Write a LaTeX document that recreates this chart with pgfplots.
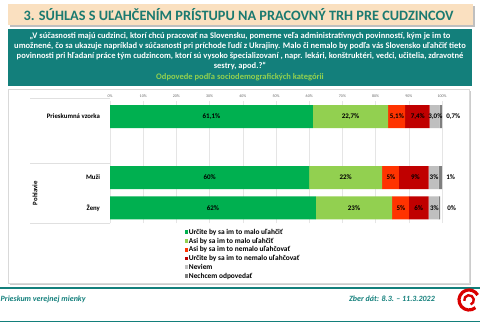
\documentclass[border=0pt]{standalone}
\usepackage{pgfplots}
\pgfplotsset{compat=1.18}
\usepackage{fontspec}
\setmainfont{Carlito}
\definecolor{cA}{HTML}{00B050}
\definecolor{cB}{HTML}{92D050}
\definecolor{cC}{HTML}{FF3300}
\definecolor{cD}{HTML}{C00000}
\definecolor{cE}{HTML}{BFBFBF}
\definecolor{cF}{HTML}{7F7F7F}
\definecolor{teal1}{HTML}{137F7B}
\definecolor{beige}{HTML}{FAE0C0}
\definecolor{ttl}{HTML}{1B7A70}
\definecolor{lgreen}{HTML}{92D050}
\tikzset{lbl/.style={font=\fontsize{6.8}{7}\selectfont\bfseries},
         vlbl/.style={font=\fontsize{7}{7}\selectfont\bfseries, inner sep=0pt}}
\pgfplotsset{myax/.style={
  at={(110pt,-223.25pt)}, anchor=south west,
  scale only axis, width=332pt, height=122pt,
  xmin=0, xmax=100, ymin=-0.5, ymax=3.5, clip=false}}
\begin{document}
\begin{tikzpicture}
\begin{scope}[x=1pt,y=-1pt]
\useasboundingbox (0,0) rectangle (480,323);
% title
\fill[black!25] (10,6) rectangle (475,27);
\fill[beige] (8,4) rectangle (473,25);
\node[font=\fontsize{14.3}{17}\selectfont\bfseries, text=ttl] at (238.5,14.5) {3. SÚHLAS S UĽAHČENÍM PRÍSTUPU NA PRACOVNÝ TRH PRE CUDZINCOV};
% teal box
\fill[teal1] (8,29.5) rectangle (472,86);
\node[font=\fontsize{8.5}{10}\selectfont\bfseries, text=white, align=center] at (240,51.5) {„V súčasnosti majú cudzinci, ktorí chcú pracovať na Slovensku, pomerne veľa administratívnych povinností, kým je im to\\umožnené, čo sa ukazuje napríklad v súčasnosti pri príchode ľudí z Ukrajiny. Malo či nemalo by podľa vás Slovensko uľahčiť tieto\\povinnosti pri hľadaní práce tým cudzincom, ktorí sú vysoko špecializovaní , napr. lekári, konštruktéri, vedci, učitelia, zdravotné\\sestry, apod.?“};
\node[font=\fontsize{8.5}{10}\selectfont\bfseries, text=lgreen] at (240,77) {Odpovede podľa sociodemografických kategórii};
% panel
\fill[black!20] (10,91) rectangle (471,285.5);
\fill[white] (8,89) rectangle (469,283.5);
\draw[black!15, line width=0.4pt] (8,89) rectangle (469,283.5);
% row separators
\draw[black!12, line width=0.6pt] (30,98) -- (110,98);
\draw[black!12, line width=0.6pt] (30,163) -- (110,163);
\draw[black!12, line width=0.6pt] (30,223.5) -- (110,223.5);
\node[lbl, anchor=east] at (103.5,116.5) {Prieskumná vzorka};
\node[lbl, anchor=east] at (103.5,177.5) {Muži};
\node[lbl, anchor=east] at (103.5,208) {Ženy};
\node[lbl, rotate=90] at (35,193) {Pohlavie};
% footer
\draw[teal1, line width=1.6pt] (0,288) -- (480,288);
\draw[teal1, line width=1.6pt] (0,321.5) -- (480,321.5);
\node[font=\fontsize{8}{9}\selectfont\bfseries\itshape, text=teal1, anchor=west, inner sep=0pt] at (0.5,299) {Prieskum verejnej mienky};
\node[font=\fontsize{8}{9}\selectfont\bfseries\itshape, text=teal1, anchor=east, inner sep=0pt] at (435,299) {Zber dát: 8.3. – 11.3.2022};
\draw[red!85!black, line width=3.2pt] (469,300) ++(50:10) arc[start angle=50, end angle=330, radius=10];
\draw[red!85!black, line width=2.4pt] (469,300) ++(170:4.8) arc[start angle=170, end angle=430, radius=4.8];
\end{scope}
\begin{axis}[
  myax,
  xbar stacked, bar width=23pt,
  axis line style={draw=none},
  xtick={0,10,...,100},
  xticklabels={0\%,10\%,20\%,30\%,40\%,50\%,60\%,70\%,80\%,90\%,100\%},
  xticklabel pos=upper,
  xticklabel style={font=\fontsize{4}{4}\selectfont, text=black!60},
  xmajorgrids, grid style={black!10, line width=0.5pt},
  major tick length=0pt,
  ytick=\empty,
  legend style={at={(0.215,-0.025)}, anchor=north west, draw=none, fill=none,
    font=\fontsize{7.4}{8}\selectfont\bfseries, row sep=1.4pt,
    nodes={font=\fontsize{7.4}{8}\selectfont\bfseries, inner sep=0.5pt, text height=5.2pt, text depth=1.2pt}},
  legend cell align=left,
  legend image code/.code={\fill[#1] (0pt,-1.9pt) rectangle (3.8pt,1.9pt);},
]
\addplot[fill=cA, draw=none] coordinates {(61.1,3) (60,1) (62,0)};
\addplot[fill=cB, draw=none] coordinates {(22.7,3) (22,1) (23,0)};
\addplot[fill=cC, draw=none] coordinates {(5.1,3) (5,1) (5,0)};
\addplot[fill=cD, draw=none] coordinates {(7.4,3) (9,1) (6,0)};
\addplot[fill=cE, draw=none] coordinates {(3.0,3) (3,1) (3,0)};
\addplot[fill=cF, draw=none] coordinates {(0.7,3) (1,1) (0.4,0)};
\legend{Určite by sa im to malo uľahčiť, Asi by sa im to malo uľahčiť, Asi by sa im to nemalo uľahčovať, Určite by sa im to nemalo uľahčovať, Neviem, Nechcem odpovedať}
\end{axis}
\begin{axis}[myax, hide axis]
\node[vlbl] at (axis cs:30.55,3) {61,1\%};
\node[vlbl] at (axis cs:72.45,3) {22,7\%};
\node[vlbl] at (axis cs:86.4,3) {5,1\%};
\node[vlbl] at (axis cs:92.7,3) {7,4\%};
\node[vlbl] at (axis cs:98.0,3) {3,0\%};
\node[vlbl] at (axis cs:103.4,3) {0,7\%};
\node[vlbl] at (axis cs:30,1) {60\%};
\node[vlbl] at (axis cs:71,1) {22\%};
\node[vlbl] at (axis cs:84.6,1) {5\%};
\node[vlbl] at (axis cs:92,1) {9\%};
\node[vlbl] at (axis cs:97.6,1) {3\%};
\node[vlbl] at (axis cs:102.6,1) {1\%};
\node[vlbl] at (axis cs:31,0) {62\%};
\node[vlbl] at (axis cs:73.5,0) {23\%};
\node[vlbl] at (axis cs:87.6,0) {5\%};
\node[vlbl] at (axis cs:93,0) {6\%};
\node[vlbl] at (axis cs:97.7,0) {3\%};
\node[vlbl] at (axis cs:102.9,0) {0\%};
\end{axis}
\end{tikzpicture}
\end{document}
